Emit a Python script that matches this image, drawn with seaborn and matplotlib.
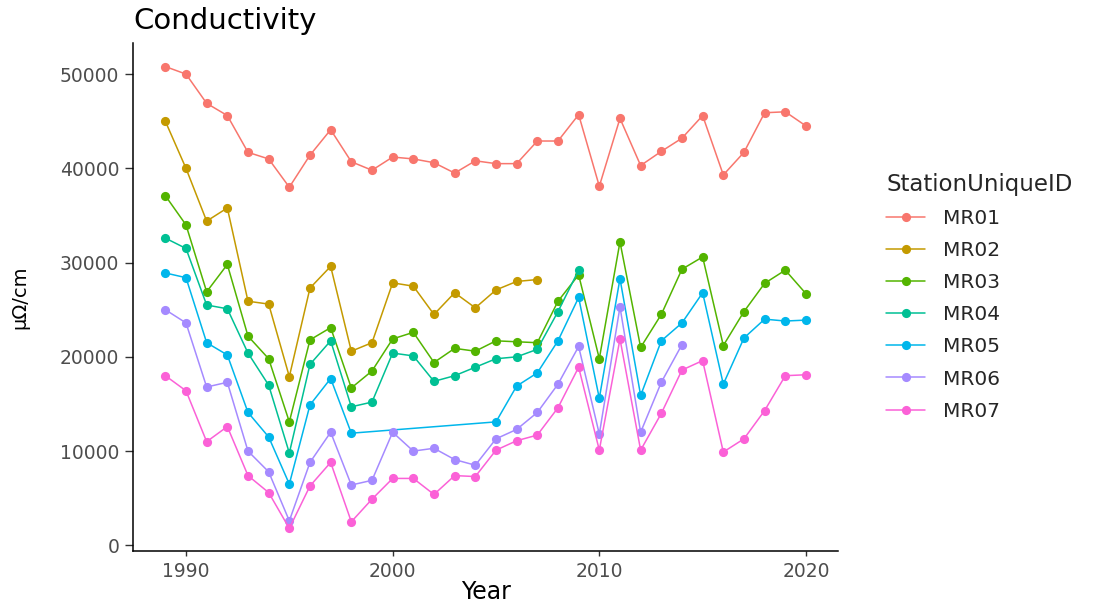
import matplotlib
matplotlib.use("Agg")
import matplotlib.pyplot as plt
import pandas as pd
import seaborn as sns

# Annual conductivity readings per monitoring station
stations = ["MR01", "MR02", "MR03", "MR04", "MR05", "MR06", "MR07"]

years_mr01 = list(range(1989, 2021))
mr01 = [50800, 50000, 46900, 45600, 41700, 41000, 38000, 41400, 44100, 40700,
        39800, 41200, 41000, 40600, 39500, 40800, 40500, 40500, 42900, 42900,
        45700, 38100, 45300, 40300, 41800, 43200, 45600, 39300, 41700, 45900,
        46000, 44500]

years_mr02 = list(range(1989, 2008))
mr02 = [45000, 40000, 34400, 35800, 25900, 25600, 17900, 27300, 29600, 20600,
        21500, 27850, 27500, 24500, 26800, 25200, 27100, 28000, 28200]

years_mr03 = list(range(1989, 2021))
mr03 = [37100, 34000, 26900, 29800, 22200, 19800, 13100, 21800, 23100, 16700,
        18500, 21900, 22600, 19400, 20900, 20600, 21700, 21600, 21500, 25900,
        28700, 19800, 32200, 21000, 24500, 29300, 30600, 21200, 24800, 27800,
        29200, 26700]

years_mr04 = list(range(1989, 2010))
mr04 = [32600, 31500, 25500, 25100, 20400, 17000, 9800, 19200, 21700, 14700,
        15200, 20400, 20100, 17400, 18000, 18900, 19800, 20000, 20800, 24800,
        29200]

years_mr05 = list(range(1989, 1999)) + list(range(2005, 2021))
mr05 = [28900, 28400, 21500, 20200, 14100, 11500, 6500, 14900, 17700, 11900,
        13100, 16900, 18300, 21700, 26300, 15600, 28300, 15900, 21700, 23600,
        26800, 17100, 22000, 24000, 23800, 23900]

years_mr06 = list(range(1989, 2015))
mr06 = [25000, 23600, 16800, 17300, 10000, 7800, 2600, 8800, 12000, 6400,
        6900, 12000, 10000, 10300, 9100, 8500, 11300, 12300, 14100, 17100,
        21100, 11800, 25300, 12000, 17300, 21300]

years_mr07 = list(range(1989, 2021))
mr07 = [18000, 16400, 11000, 12600, 7400, 5600, 1800, 6300, 8800, 2500,
        4900, 7100, 7100, 5400, 7400, 7300, 10100, 11100, 11700, 14600,
        18900, 10100, 21900, 10100, 14000, 18600, 19600, 9900, 11300, 14300,
        18000, 18100]

x_ticks = [1990, 2000, 2010, 2020]
y_ticks = [0, 10000, 20000, 30000, 40000, 50000]

palette = ["#F8766D", "#C49A00", "#53B400", "#00C094", "#00B6EB", "#A58AFF", "#FB61D7"]

series = [
    ("MR01", years_mr01, mr01),
    ("MR02", years_mr02, mr02),
    ("MR03", years_mr03, mr03),
    ("MR04", years_mr04, mr04),
    ("MR05", years_mr05, mr05),
    ("MR06", years_mr06, mr06),
    ("MR07", years_mr07, mr07),
]
df = pd.concat(
    [pd.DataFrame({"Year": yrs, "Conductivity": vals, "StationUniqueID": sid})
     for sid, yrs, vals in series],
    ignore_index=True,
)

sns.set_theme(style="ticks")
plt.rcParams["font.family"] = ["DejaVu Sans"]

W, H = 1103, 605
fig = plt.figure(figsize=(W / 100, H / 100), dpi=100)
left, right, top, bottom = 133.3, 838, 43, 551
ax = fig.add_axes([left / W, 1 - bottom / H, (right - left) / W, (bottom - top) / H])

sns.lineplot(
    data=df, x="Year", y="Conductivity", hue="StationUniqueID",
    hue_order=stations, palette=palette, marker="o", markersize=6.6,
    markeredgewidth=0, linewidth=1.1, errorbar=None, ax=ax,
)

ax.set_xlim(1987.45, 2021.55)
ax.set_ylim(-600, 53300)
ax.set_xticks(x_ticks)
ax.set_yticks(y_ticks)
ax.set_xticklabels([str(v) for v in x_ticks])
ax.set_yticklabels([str(v) for v in y_ticks])

for side in ("top", "right"):
    ax.spines[side].set_visible(False)
for side in ("left", "bottom"):
    ax.spines[side].set_color("black")
    ax.spines[side].set_linewidth(1.1)

ax.tick_params(axis="y", length=6, width=1.0, color="#333333",
               labelsize=13.5, labelcolor="#4D4D4D", pad=4)
ax.tick_params(axis="x", length=3.8, width=1.0, color="#333333",
               labelsize=13.5, labelcolor="#4D4D4D", pad=4)

ax.set_xlabel("Year", fontsize=17, color="black")
ax.set_ylabel("µΩ/cm", fontsize=14, color="black")
ax.xaxis.set_label_coords(0.5, -(580 - bottom) / (bottom - top))
ax.yaxis.set_label_coords(-(left - 29) / (right - left), 0.5)

fig.text(133 / W, 1 - 29 / H, "Conductivity", ha="left", va="baseline",
         fontsize=21, color="black")

handles, labels = ax.get_legend_handles_labels()
if ax.legend_ is not None:
    ax.legend_.remove()
leg = fig.legend(
    handles, labels, title="StationUniqueID", loc="upper left",
    bbox_to_anchor=(886 / W, 1 - 173 / H), frameon=False,
    fontsize=14.5, title_fontsize=16.5, borderpad=0, borderaxespad=0,
    handlelength=1.95, handletextpad=0.9, labelspacing=0.65,
    alignment="left",
)
for line in leg.get_lines():
    line.set_linewidth(1.1)
    line.set_marker("o")
    line.set_markersize(6.6)
    line.set_markeredgewidth(0)

fig.savefig("out.png", dpi=100)
